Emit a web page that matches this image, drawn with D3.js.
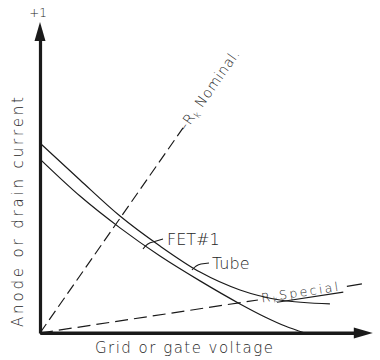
<!DOCTYPE html>
<html>
<head>
<meta charset="utf-8">
<script src="https://cdn.jsdelivr.net/npm/d3@7"></script>
<style>
  html, body { margin: 0; padding: 0; background: #fff; }
  svg { display: block; }
  text { font-family: "DejaVu Sans", sans-serif; font-weight: 200; fill: #262626; }
</style>
</head>
<body>
<svg id="chart" width="380" height="360"></svg>
<script>
// ---- data (normalised: x = grid/gate voltage, y = anode/drain current, top = +1) ----
const tubeX = [0, 0.125, 0.25, 0.375, 0.5, 0.625, 0.75, 0.906];
const tubeY = [0.627, 0.505, 0.386, 0.287, 0.201, 0.142, 0.109, 0.096];
const fetX  = [0, 0.125, 0.25, 0.375, 0.5, 0.625, 0.703, 0.766, 0.828];
const fetY  = [0.574, 0.452, 0.347, 0.254, 0.172, 0.096, 0.053, 0.023, 0];
const rkNominalX = [0, 0.447];
const rkNominalY = [0, 0.677];
const rkSpecialX = [0, 0.681];
const rkSpecialY = [0, 0.109];
const rkSpecialTailX = [0.959, 1.006];
const rkSpecialTailY = [0.154, 0.162];
const xLabel = "Grid or gate voltage";
const yLabel = "Anode or drain current";
const yTopLabel = "+1";

const svg = d3.select("#chart");
const x = d3.scaleLinear().domain([0, 1]).range([40, 360]);
const y = d3.scaleLinear().domain([0, 1]).range([333, 30]);
const ink = "#1a1a1a";

const line = d3.line().x(d => x(d[0])).y(d => y(d[1]));
const smooth = d3.line().x(d => x(d[0])).y(d => y(d[1])).curve(d3.curveMonotoneX);
const zip = (a, b) => a.map((v, i) => [v, b[i]]);

// ---- reference lines (dashed) ----
svg.append("path").attr("d", line(zip(rkNominalX, rkNominalY)))
  .attr("fill", "none").attr("stroke", ink).attr("stroke-width", 1.2)
  .attr("stroke-dasharray", "11,5");
svg.append("path").attr("d", line(zip(rkSpecialX, rkSpecialY)))
  .attr("fill", "none").attr("stroke", ink).attr("stroke-width", 1.2)
  .attr("stroke-dasharray", "13,6");
svg.append("path").attr("d", line(zip(rkSpecialTailX, rkSpecialTailY)))
  .attr("fill", "none").attr("stroke", ink).attr("stroke-width", 1.2);

// ---- curves ----
svg.append("path").attr("d", smooth(zip(tubeX, tubeY)))
  .attr("fill", "none").attr("stroke", ink).attr("stroke-width", 1.2);
svg.append("path").attr("d", smooth(zip(fetX, fetY)))
  .attr("fill", "none").attr("stroke", ink).attr("stroke-width", 1.2);

// ---- axes ----
const yAxis = d3.axisLeft(y).tickValues([]).tickSizeOuter(0);
const xAxis = d3.axisBottom(x).tickValues([]).tickSizeOuter(0);
const gy = svg.append("g").attr("transform", `translate(${x(0)},0)`).call(yAxis);
const gx = svg.append("g").attr("transform", `translate(0,${y(0)})`).call(xAxis);
gx.select(".domain").attr("stroke", ink).attr("stroke-width", 3.2);
gy.select(".domain").attr("stroke", ink).attr("stroke-width", 3.2);
const xEnd = x(1.04), yEnd = y(1.026);
svg.append("line").attr("x1", x(0)).attr("x2", xEnd - 8).attr("y1", y(0)).attr("y2", y(0))
  .attr("stroke", ink).attr("stroke-width", 3.2);
svg.append("path")
  .attr("d", `M${xEnd},${y(0)} L${xEnd - 19},${y(0) - 5.5} L${xEnd - 19},${y(0) + 5.5} Z`)
  .attr("fill", ink);
svg.append("path")
  .attr("d", `M${x(0)},${yEnd} L${x(0) - 5.5},${yEnd + 19} L${x(0) + 5.5},${yEnd + 19} Z`)
  .attr("fill", ink);

// ---- labels ----
svg.append("text").attr("x", x(0) - 2).attr("y", 17).attr("text-anchor", "middle")
  .attr("font-size", 12).text(yTopLabel);

svg.append("text").attr("x", 184).attr("y", 353).attr("text-anchor", "middle")
  .attr("font-size", 15).attr("textLength", 178).attr("lengthAdjust", "spacing")
  .text(xLabel);

svg.append("text").attr("transform", "translate(23,212) rotate(-90)")
  .attr("text-anchor", "middle").attr("font-size", 15)
  .attr("textLength", 230).attr("lengthAdjust", "spacing").text(yLabel);

// Rk Nominal label along the line
const nomEnd = [x(rkNominalX[1]), y(rkNominalY[1])];
const nomAng = Math.atan2(y(rkNominalY[1]) - y(0), x(rkNominalX[1]) - x(0)) * 180 / Math.PI;
const tNom = svg.append("text")
  .attr("transform", `translate(${nomEnd[0]},${nomEnd[1]}) rotate(${nomAng}) translate(-2,4.5)`)
  .attr("font-size", 14).attr("letter-spacing", 0.6);
tNom.append("tspan").text("–R");
tNom.append("tspan").attr("font-size", 9).attr("dy", 3).text("k");
tNom.append("tspan").attr("dy", -3).text(" Nominal.");

// Rk Special label along the line
const spStart = [x(rkSpecialX[1]), y(rkSpecialY[1])];
const spAng = Math.atan2(y(rkSpecialY[1]) - y(0), x(rkSpecialX[1]) - x(0)) * 180 / Math.PI;
const gSp = svg.append("g")
  .attr("transform", `translate(${spStart[0] + 4},${spStart[1] + 2.5}) rotate(${spAng})`);
const tSp = gSp.append("text").attr("font-size", 12.5).attr("letter-spacing", 2.4);
tSp.append("tspan").text("R");
tSp.append("tspan").attr("font-size", 8).attr("dy", 2).text("k");
tSp.append("tspan").attr("dy", -2).text("Special");
gSp.append("line").attr("x1", 15).attr("x2", 82).attr("y1", 2).attr("y2", 2)
  .attr("stroke", ink).attr("stroke-width", 1.1);

// FET#1 label + leader
const fp = [x(fetX[3]) - 17, 249];
svg.append("path").attr("d", `M${fp[0]},${fp[1]} q4,-6 10,-7 L${fp[0] + 20},${fp[1] - 10}`)
  .attr("fill", "none").attr("stroke", ink).attr("stroke-width", 1.1);
svg.append("text").attr("x", fp[0] + 24).attr("y", 245).attr("font-size", 16).text("FET#1");

// Tube label + leader
const tp = [192, 270];
svg.append("path").attr("d", `M${tp[0]},${tp[1]} q4,-5 9,-6 L${tp[0] + 17},${tp[1] - 7}`)
  .attr("fill", "none").attr("stroke", ink).attr("stroke-width", 1.1);
svg.append("text").attr("x", tp[0] + 20).attr("y", 269).attr("font-size", 16).text("Tube");
</script>
</body>
</html>
